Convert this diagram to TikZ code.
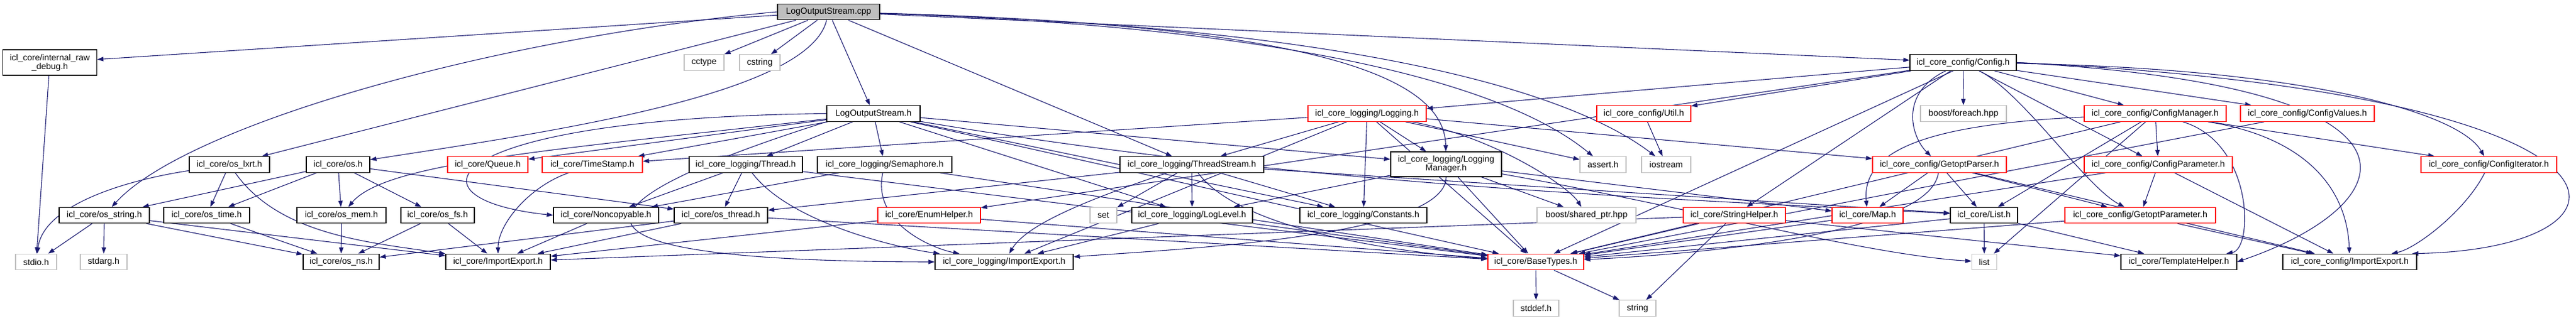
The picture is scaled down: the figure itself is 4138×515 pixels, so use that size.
\documentclass[tikz,border=0pt]{standalone}
\usepackage{fontspec}
\setmainfont{Liberation Sans}
\usetikzlibrary{arrows.meta,backgrounds}
\definecolor{edgecol}{HTML}{191970}
\definecolor{grayborder}{HTML}{BFBFBF}
\definecolor{cppfill}{HTML}{BFBFBF}
\definecolor{redborder}{HTML}{FF0000}
\begin{document}
\begin{tikzpicture}[x=1pt,y=1pt,
  box/.style={draw=black, fill=white, line width=1.2pt, rectangle, inner sep=0pt, minimum height=25.5pt, font=\fontsize{14}{14}\selectfont, align=center},
  rbox/.style={box, draw=redborder},
  gbox/.style={box, draw=grayborder},
  dep/.style={draw=edgecol, line width=1.1pt, -{Triangle[length=10pt,width=7pt]}},
]
\useasboundingbox (0,0) rectangle (4138,-515);
% row 0
\node[box, fill=cppfill, minimum width=164pt] (cpp) at (1331,-19) {LogOutputStream.cpp};
% row A
\node[box, minimum width=151pt, minimum height=41pt] (raw) at (80,-100.5) {icl\_core/internal\_raw\\\_debug.h};
\node[gbox, minimum width=64pt] (cctype) at (1131,-100.5) {cctype};
\node[gbox, minimum width=65pt] (cstring) at (1220.5,-100.5) {cstring};
\node[box, minimum width=171pt] (config) at (3153.5,-100.5) {icl\_core\_config/Config.h};
% row B
\node[box, minimum width=150pt] (losh) at (1403,-182.5) {LogOutputStream.h};
\node[rbox, minimum width=190pt] (logging) at (2196,-182.5) {icl\_core\_logging/Logging.h};
\node[rbox, minimum width=151pt] (util) at (2640.5,-182.5) {icl\_core\_config/Util.h};
\node[gbox, minimum width=138pt] (foreach) at (3154,-182.5) {boost/foreach.hpp};
\node[rbox, minimum width=228pt] (cmgr) at (3462,-182.5) {icl\_core\_config/ConfigManager.h};
\node[rbox, minimum width=215pt] (cvals) at (3706.5,-182.5) {icl\_core\_config/ConfigValues.h};
% row C
\node[box, minimum width=129pt] (lxrt) at (368.5,-264.5) {icl\_core/os\_lxrt.h};
\node[box, minimum width=102pt] (os) at (543,-264.5) {icl\_core/os.h};
\node[rbox, minimum width=129pt] (queue) at (783.5,-264.5) {icl\_core/Queue.h};
\node[rbox, minimum width=161pt] (tstamp) at (951.5,-264.5) {icl\_core/TimeStamp.h};
\node[box, minimum width=182pt] (thread) at (1198,-264.5) {icl\_core\_logging/Thread.h};
\node[box, minimum width=216pt] (sema) at (1421,-264.5) {icl\_core\_logging/Semaphore.h};
\node[box, minimum width=231pt] (tstream) at (1914.5,-264.5) {icl\_core\_logging/ThreadStream.h};
\node[box, minimum width=178pt, minimum height=40pt] (lman) at (2323,-264) {icl\_core\_logging/Logging\\Manager.h};
\node[gbox, minimum width=74pt] (assert) at (2575,-264.5) {assert.h};
\node[gbox, minimum width=79pt] (iostream) at (2676.5,-264.5) {iostream};
\node[rbox, minimum width=215pt] (gparser) at (3115.5,-264.5) {icl\_core\_config/GetoptParser.h};
\node[rbox, minimum width=238pt] (cparam) at (3467,-264.5) {icl\_core\_config/ConfigParameter.h};
\node[rbox, minimum width=218pt] (citer) at (3998,-264.5) {icl\_core\_config/ConfigIterator.h};
% row D
\node[box, minimum width=145pt] (ostr) at (167.5,-346) {icl\_core/os\_string.h};
\node[box, minimum width=138pt] (otime) at (332,-346) {icl\_core/os\_time.h};
\node[box, minimum width=143pt] (omem) at (548.5,-346) {icl\_core/os\_mem.h};
\node[box, minimum width=118pt] (ofs) at (703,-346) {icl\_core/os\_fs.h};
\node[box, minimum width=169pt] (noncopy) at (973.5,-346) {icl\_core/Noncopyable.h};
\node[box, minimum width=150pt] (othr) at (1158,-346) {icl\_core/os\_thread.h};
\node[rbox, minimum width=165pt] (enumh) at (1492.5,-346) {icl\_core/EnumHelper.h};
\node[gbox, minimum width=43pt] (set) at (1772.5,-346) {set};
\node[box, minimum width=194pt] (loglevel) at (1915,-346) {icl\_core\_logging/LogLevel.h};
\node[box, minimum width=204pt] (consts) at (2190,-346) {icl\_core\_logging/Constants.h};
\node[gbox, minimum width=159pt] (sptr) at (2548.5,-346) {boost/shared\_ptr.hpp};
\node[rbox, minimum width=164pt] (strh) at (2786,-346) {icl\_core/StringHelper.h};
\node[rbox, minimum width=114pt] (map) at (3000,-346) {icl\_core/Map.h};
\node[box, minimum width=108pt] (listh) at (3187,-346) {icl\_core/List.h};
\node[rbox, minimum width=242pt] (gparam) at (3438,-346) {icl\_core\_config/GetoptParameter.h};
% row E
\node[gbox, minimum width=66pt] (stdio) at (58,-421) {stdio.h};
\node[gbox, minimum width=75pt] (stdarg) at (166.5,-421) {stdarg.h};
\node[box, minimum width=122pt] (osns) at (548,-421) {icl\_core/os\_ns.h};
\node[box, minimum width=168pt] (iexp) at (800,-421) {icl\_core/ImportExport.h};
\node[box, minimum width=222pt] (liexp) at (1613,-421) {icl\_core\_logging/ImportExport.h};
\node[rbox, minimum width=154pt] (btypes) at (2467,-421) {icl\_core/BaseTypes.h};
\node[gbox, minimum width=40pt] (list) at (3187.5,-421) {list};
\node[box, minimum width=186pt] (tmplh) at (3500,-421) {icl\_core/TemplateHelper.h};
\node[box, minimum width=215pt] (ciexp) at (3774.5,-421) {icl\_core\_config/ImportExport.h};
% row F
\node[gbox, minimum width=73pt] (stddef) at (2467.5,-495.5) {stddef.h};
\node[gbox, minimum width=59pt] (string) at (2630.5,-495.5) {string};

\begin{pgfonlayer}{background}
% cpp
\draw[dep] (cpp) -- (raw);
\draw[dep] (cpp.west) .. controls (800,-60) and (300,-200) .. (ostr);
\draw[dep] (cpp) -- (lxrt);
\draw[dep] (cpp) .. controls (1300,-150) and (900,-210) .. (os);
\draw[dep] (cpp) -- (cctype);
\draw[dep] (cpp) -- (cstring);
\draw[dep] (cpp) -- (losh);
\draw[dep] (cpp) -- (tstream);
\draw[dep] (cpp) -- (config);
\draw[dep] (cpp) .. controls (2100,-40) and (2320,-120) .. (lman);
\draw[dep] (cpp) .. controls (2000,-40) and (2400,-120) .. (assert);
\draw[dep] (cpp) .. controls (2100,-40) and (2500,-130) .. (iostream);
% icl_core os layer
\draw[dep] (raw) -- (stdio);
\draw[dep] (lxrt) .. controls (200,-290) and (70,-330) .. (stdio);
\draw[dep] (lxrt) -- (otime);
\draw[dep] (lxrt) .. controls (450,-380) and (600,-390) .. (iexp);
\draw[dep] (os) -- (ostr);
\draw[dep] (os) -- (otime);
\draw[dep] (os) -- (omem);
\draw[dep] (os) -- (ofs);
\draw[dep] (os) -- (othr);
\draw[dep] (ostr) -- (stdio);
\draw[dep] (ostr) -- (stdarg);
\draw[dep] (ostr) -- (osns);
\draw[dep] (ostr) -- (iexp);
\draw[dep] (otime) -- (osns);
\draw[dep] (omem) -- (osns);
\draw[dep] (ofs) -- (osns);
\draw[dep] (ofs) -- (iexp);
\draw[dep] (othr) -- (osns);
\draw[dep] (othr) -- (iexp);
\draw[dep] (othr) -- (btypes);
\draw[dep] (noncopy) -- (iexp);
\draw[dep] (tstamp) .. controls (850,-300) and (800,-360) .. (iexp);
\draw[dep] (enumh) -- (iexp);
\draw[dep] (enumh) -- (btypes);
% LogOutputStream.h
\draw[dep] (losh) -- (queue);
\draw[dep] (losh) -- (tstamp);
\draw[dep] (losh) -- (thread);
\draw[dep] (losh) -- (sema);
\draw[dep] (losh.west) .. controls (700,-190) and (640,-320) .. (noncopy.west);
\draw[dep] (losh) .. controls (900,-240) and (620,-260) .. (omem);
\draw[dep] (losh) -- (loglevel);
\draw[dep] (losh) -- (consts);
\draw[dep] (losh.south west) .. controls (1000,-300) and (760,-420) .. (liexp.west);
\draw[dep] (losh) -- (btypes);
\draw[dep] (losh) .. controls (2100,-300) and (2700,-320) .. (listh);
\draw[dep] (losh) -- (lman);
% logging layer
\draw[dep] (thread) -- (noncopy);
\draw[dep] (thread) -- (othr);
\draw[dep] (thread) .. controls (1270,-360) and (1450,-400) .. (liexp);
\draw[dep] (thread) -- (btypes);
\draw[dep] (sema) -- (noncopy);
\draw[dep] (sema) .. controls (1400,-360) and (1500,-400) .. (liexp);
\draw[dep] (sema) -- (btypes);
\draw[dep] (tstream) -- (othr);
\draw[dep] (tstream) .. controls (1750,-320) and (1650,-360) .. (liexp);
\draw[dep] (tstream) -- (set);
\draw[dep] (tstream) -- (loglevel);
\draw[dep] (tstream) -- (consts);
\draw[dep] (tstream) .. controls (2000,-380) and (2300,-410) .. (btypes);
\draw[dep] (tstream) -- (listh);
\draw[dep] (loglevel) -- (liexp);
\draw[dep] (loglevel) -- (btypes);
\draw[dep] (lman) -- (loglevel);
\draw[dep] (lman) .. controls (2323,-380) and (1900,-400) .. (liexp);
\draw[dep] (lman) -- (btypes);
\draw[dep] (lman) -- (sptr);
\draw[dep] (lman) -- (map);
\draw[dep] (lman) .. controls (2700,-330) and (3000,-410) .. (list);
\draw[dep] (logging) -- (tstamp);
\draw[dep] (logging) -- (tstream);
\draw[dep] (logging) -- (consts);
\draw[dep] (logging) -- (lman);
\draw[dep] (logging) -- (assert);
\draw[dep] (logging) .. controls (2400,-220) and (2520,-300) .. (sptr);
\draw[dep] (logging) -- (gparser);
\draw[dep] (logging) -- (btypes);
\draw[dep] (logging) -- (liexp);
% config layer
\draw[dep] (config) -- (foreach);
\draw[dep] (config) -- (util);
\draw[dep] (config) -- (logging);
\draw[dep] (config) -- (enumh);
\draw[dep] (config) -- (strh);
\draw[dep] (config.220) -- (btypes);
\draw[dep] (config) .. controls (3050,-150) and (3070,-220) .. (gparser);
\draw[dep] (config) .. controls (3250,-150) and (3350,-300) .. (gparam);
\draw[dep] (config) -- (cparam);
\draw[dep] (config) -- (cmgr);
\draw[dep] (config) -- (cvals);
\draw[dep] (config) .. controls (3700,-110) and (3950,-180) .. (citer);
\draw[dep] (config.east) .. controls (3950,-140) and (3860,-330) .. (tmplh.east);
\draw[dep] (config.east) .. controls (4290,-150) and (4270,-400) .. ([xshift=-8pt]ciexp.north east);
\draw[dep] (util) -- (iostream);
\draw[dep] (strh) -- (btypes);
\draw[dep] (strh) -- (string);
\draw[dep] (strh) -- (tmplh);
\draw[dep] (strh) -- (iexp);
\draw[dep] (gparser) -- (map);
\draw[dep] (gparser) -- (listh);
\draw[dep] (gparser) -- (gparam);
\draw[dep] (gparser) -- (ciexp);
\draw[dep] (gparser) .. controls (3100,-380) and (2700,-410) .. (btypes);
\draw[dep] (cmgr) .. controls (3100,-200) and (2990,-240) .. (map);
\draw[dep] (cmgr) -- (listh);
\draw[dep] (cmgr) -- (cparam);
\draw[dep] (cmgr) -- (citer);
\draw[dep] (cmgr) .. controls (3700,-220) and (3770,-300) .. (ciexp);
\draw[dep] (cmgr) .. controls (3620,-230) and (3620,-400) .. (tmplh);
\draw[dep] (cmgr) -- (btypes);
\draw[dep] (cmgr) -- (list);
\draw[dep] (cparam) -- (gparam);
\draw[dep] (cparam) -- (ciexp);
\draw[dep] (cparam) -- (btypes);
\draw[dep] (cvals) -- (btypes);
\draw[dep] (citer) .. controls (3960,-340) and (3880,-400) .. (ciexp);
\draw[dep] (gparam) -- (ciexp);
\draw[dep] (gparam) -- (btypes);
\draw[dep] (listh) -- (list);
\draw[dep] (listh) -- (tmplh);
\draw[dep] (listh) -- (btypes);
\draw[dep] (map) -- (btypes);
\draw[dep] (btypes) -- (stddef);
\draw[dep] (btypes) -- (string);
\end{pgfonlayer}
\end{tikzpicture}
\end{document}
